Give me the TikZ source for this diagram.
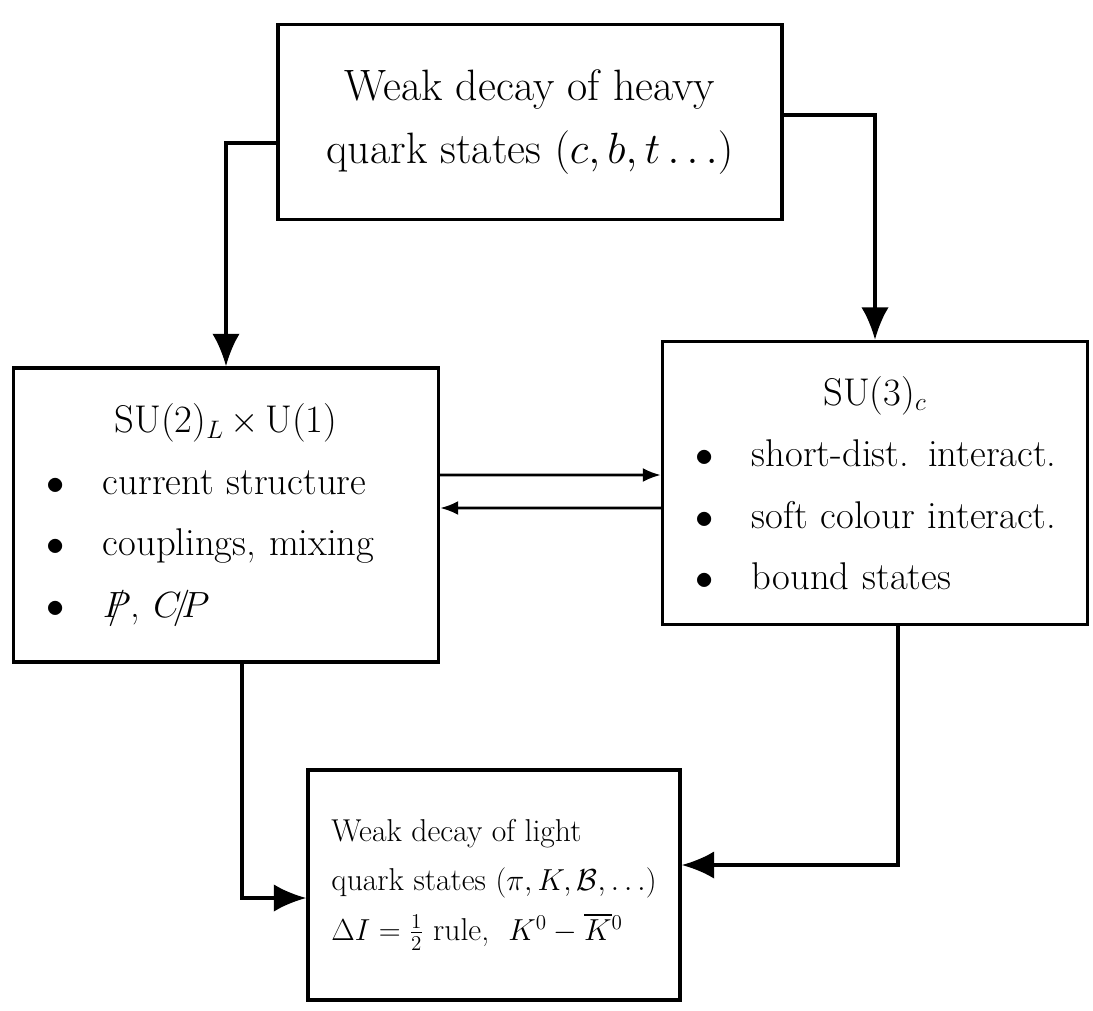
\documentclass[tikz,border=0pt]{standalone}
\usepackage{amsmath,amssymb}
\usepackage{tikz}
\usetikzlibrary{arrows.meta,positioning,calc}
\newcommand{\vslash}[1]{\ooalign{$#1$\cr\hidewidth$/$\hidewidth\cr}}
\tikzset{
  qbox/.style={draw, rectangle, line width=2pt, inner sep=6pt},
  qlist/.style={qbox, align=left, inner xsep=0.5cm, font=\fontsize{22}{35}\selectfont},
  qarrow/.style={-{Latex[length=6.5mm, width=5.5mm]}, line width=2pt},
  qlink/.style={-{Latex[length=3.6mm, width=2.8mm]}, line width=1.5pt},
}

\begin{document}
\begin{tikzpicture}[x=0.02cm, y=-0.02cm]
  \useasboundingbox (0,0) rectangle (1093,1011);

  \node[qbox, align=center, minimum width=10.08cm, minimum height=3.9cm,
        font=\fontsize{25}{36}\selectfont] (heavy) at (530,122)
        {Weak decay of heavy\\quark states $(c,b,t\ldots)$};
  \node[qlist, text width=7.5cm, minimum height=5.88cm] (ew) at (226,515)
        {\hfill SU(2)$_L$\,$\times$\,U(1)\hfill\null\\
         \hspace*{0.15cm}$\bullet$\quad current structure\\
         \hspace*{0.15cm}$\bullet$\quad couplings, mixing\\
         \hspace*{0.15cm}$\bullet$\quad \vslash{P}, \vslash{CP}};
  \node[qlist, text width=7.5cm, minimum height=5.66cm] (qcd) at (875,483)
        {\hfill SU(3)$_c$\hfill\null\\
         \hspace*{0.15cm}$\bullet$\quad short-dist. interact.\\
         \hspace*{0.15cm}$\bullet$\quad soft colour interact.\\
         \hspace*{0.15cm}$\bullet$\quad bound states};
  \node[qbox, align=left, minimum width=7.44cm, minimum height=4.6cm,
        font=\fontsize{18}{28}\selectfont] (light) at (494,885)
        {Weak decay of light\\quark states $(\pi,K,\mathcal{B},\ldots)$\\
         $\Delta I=\frac{1}{2}$ rule, \ $K^0-\overline{K}{}^0$};

  \draw[qarrow] ([yshift=-0.42cm]heavy.west) -| (ew.north);
  \draw[qarrow] ([yshift=0.14cm]heavy.east) -| (qcd.north);
  \draw[qlink] ([yshift=0.8cm]ew.east) -- ([yshift=0.16cm]qcd.west);
  \draw[qlink] ([yshift=-0.5cm]qcd.west) -- ([yshift=0.14cm]ew.east);
  \draw[qarrow] ([xshift=0.32cm]ew.south) |- ([yshift=-0.26cm]light.west);
  \draw[qarrow] ([xshift=0.46cm]qcd.south) |- ([yshift=0.4cm]light.east);
\end{tikzpicture}
\end{document}
